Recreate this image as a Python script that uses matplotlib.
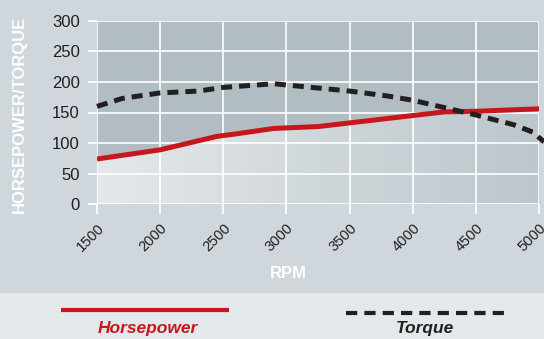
import numpy as np
import matplotlib
matplotlib.use("Agg")
import matplotlib.pyplot as plt
from matplotlib.lines import Line2D
from matplotlib.patches import Rectangle
from matplotlib.colors import LinearSegmentedColormap

# engine curves
rpm_hp = [1500, 2000, 2450, 2600, 2900, 3250, 3500, 4000, 4250, 4500, 5000]
horsepower = [74, 89, 111, 115, 124, 127, 133, 145, 151, 152, 156]

rpm_tq = [1500, 1700, 2000, 2300, 2500, 2900, 3200, 3500, 3800, 4000, 4250, 4500, 4800, 4950, 5040]
torque = [160, 173, 182, 185, 191, 197, 191, 185, 177, 170, 158, 146, 130, 118, 102]

x_ticks = [1500, 2000, 2500, 3000, 3500, 4000, 4500, 5000]
y_ticks = [0, 50, 100, 150, 200, 250, 300]

RED = "#c8161d"
DARK = "#231f20"
BG = "#cfd6dc"
BAND = "#e3e8ea"
UPPER = "#b1bdc3"

plt.rcParams["font.family"] = ["Liberation Sans", "DejaVu Sans"]

W, H = 544, 339
fig = plt.figure(figsize=(W / 100, H / 100), dpi=100)
fig.patch.set_facecolor(BG)

# lighter band holding the legend
fig.patches.append(Rectangle((0, 0), 1, 1 - 292.5 / H, transform=fig.transFigure,
                             facecolor=BAND, edgecolor="none", zorder=0))

ax = fig.add_axes([97 / W, 1 - 204.3 / H, (539 - 97) / W, (204.3 - 20.7) / H])
ax.set_facecolor(UPPER)
ax.set_xlim(1500, 5000)
ax.set_ylim(0, 300)

# gradient under the horsepower curve
cmap = LinearSegmentedColormap.from_list("under", ["#e4e8ea", "#bcc6cc"])
grad = np.linspace(0, 1, 256).reshape(1, -1)
img = ax.imshow(grad, cmap=cmap, extent=[1500, 5000, 0, 300], aspect="auto", zorder=0.5)
poly = ax.fill_between(rpm_hp, 0, horsepower, facecolor="none", edgecolor="none")
img.set_clip_path(poly.get_paths()[0], transform=ax.transData)

ax.grid(True, color="white", linewidth=1.2)
ax.set_axisbelow(False)
for s in ax.spines.values():
    s.set_visible(False)

ax.plot(rpm_hp, horsepower, color=RED, linewidth=3.6, solid_capstyle="butt", zorder=3)
tq, = ax.plot(rpm_tq, torque, color=DARK, linewidth=3.6, zorder=4, clip_on=False)
tq.set_dashes((2.2, 1.4))

ax.set_xticks(x_ticks)
ax.set_yticks(y_ticks)
ax.set_xticklabels([str(v) for v in x_ticks], rotation=45, ha="right",
                   rotation_mode="anchor", fontsize=10.5, color=DARK)
ax.set_yticklabels([str(v) for v in y_ticks], fontsize=12, color=DARK)
ax.tick_params(axis="x", color="white", length=7, width=1.2, pad=5)
ax.tick_params(axis="y", color="white", length=6.5, width=1.2, pad=6)

fig.text(288 / W, 1 - 274 / H, "RPM", color="white", fontsize=12, fontweight="bold",
         ha="center", va="center")
fig.text(19 / W, 1 - 114 / H, "HORSEPOWER/TORQUE", color="white", fontsize=12,
         fontweight="bold", rotation=90, ha="center", va="center")

# legend
fig.add_artist(Line2D([61 / W, 229 / W], [1 - 310 / H, 1 - 310 / H], transform=fig.transFigure,
                      color=RED, linewidth=3.0, solid_capstyle="butt"))
leg_tq = Line2D([346 / W, 504 / W], [1 - 313 / H, 1 - 313 / H], transform=fig.transFigure,
                color=DARK, linewidth=3.0)
leg_tq.set_dashes((2.7, 1.7))
fig.add_artist(leg_tq)
fig.text(148 / W, 1 - 329 / H, "Horsepower", color=RED, fontsize=12.5, fontweight="bold",
         fontstyle="italic", ha="center", va="center")
fig.text(425 / W, 1 - 329 / H, "Torque", color=DARK, fontsize=12.5, fontweight="bold",
         fontstyle="italic", ha="center", va="center")

fig.savefig("out.png", dpi=100, facecolor=BG)
